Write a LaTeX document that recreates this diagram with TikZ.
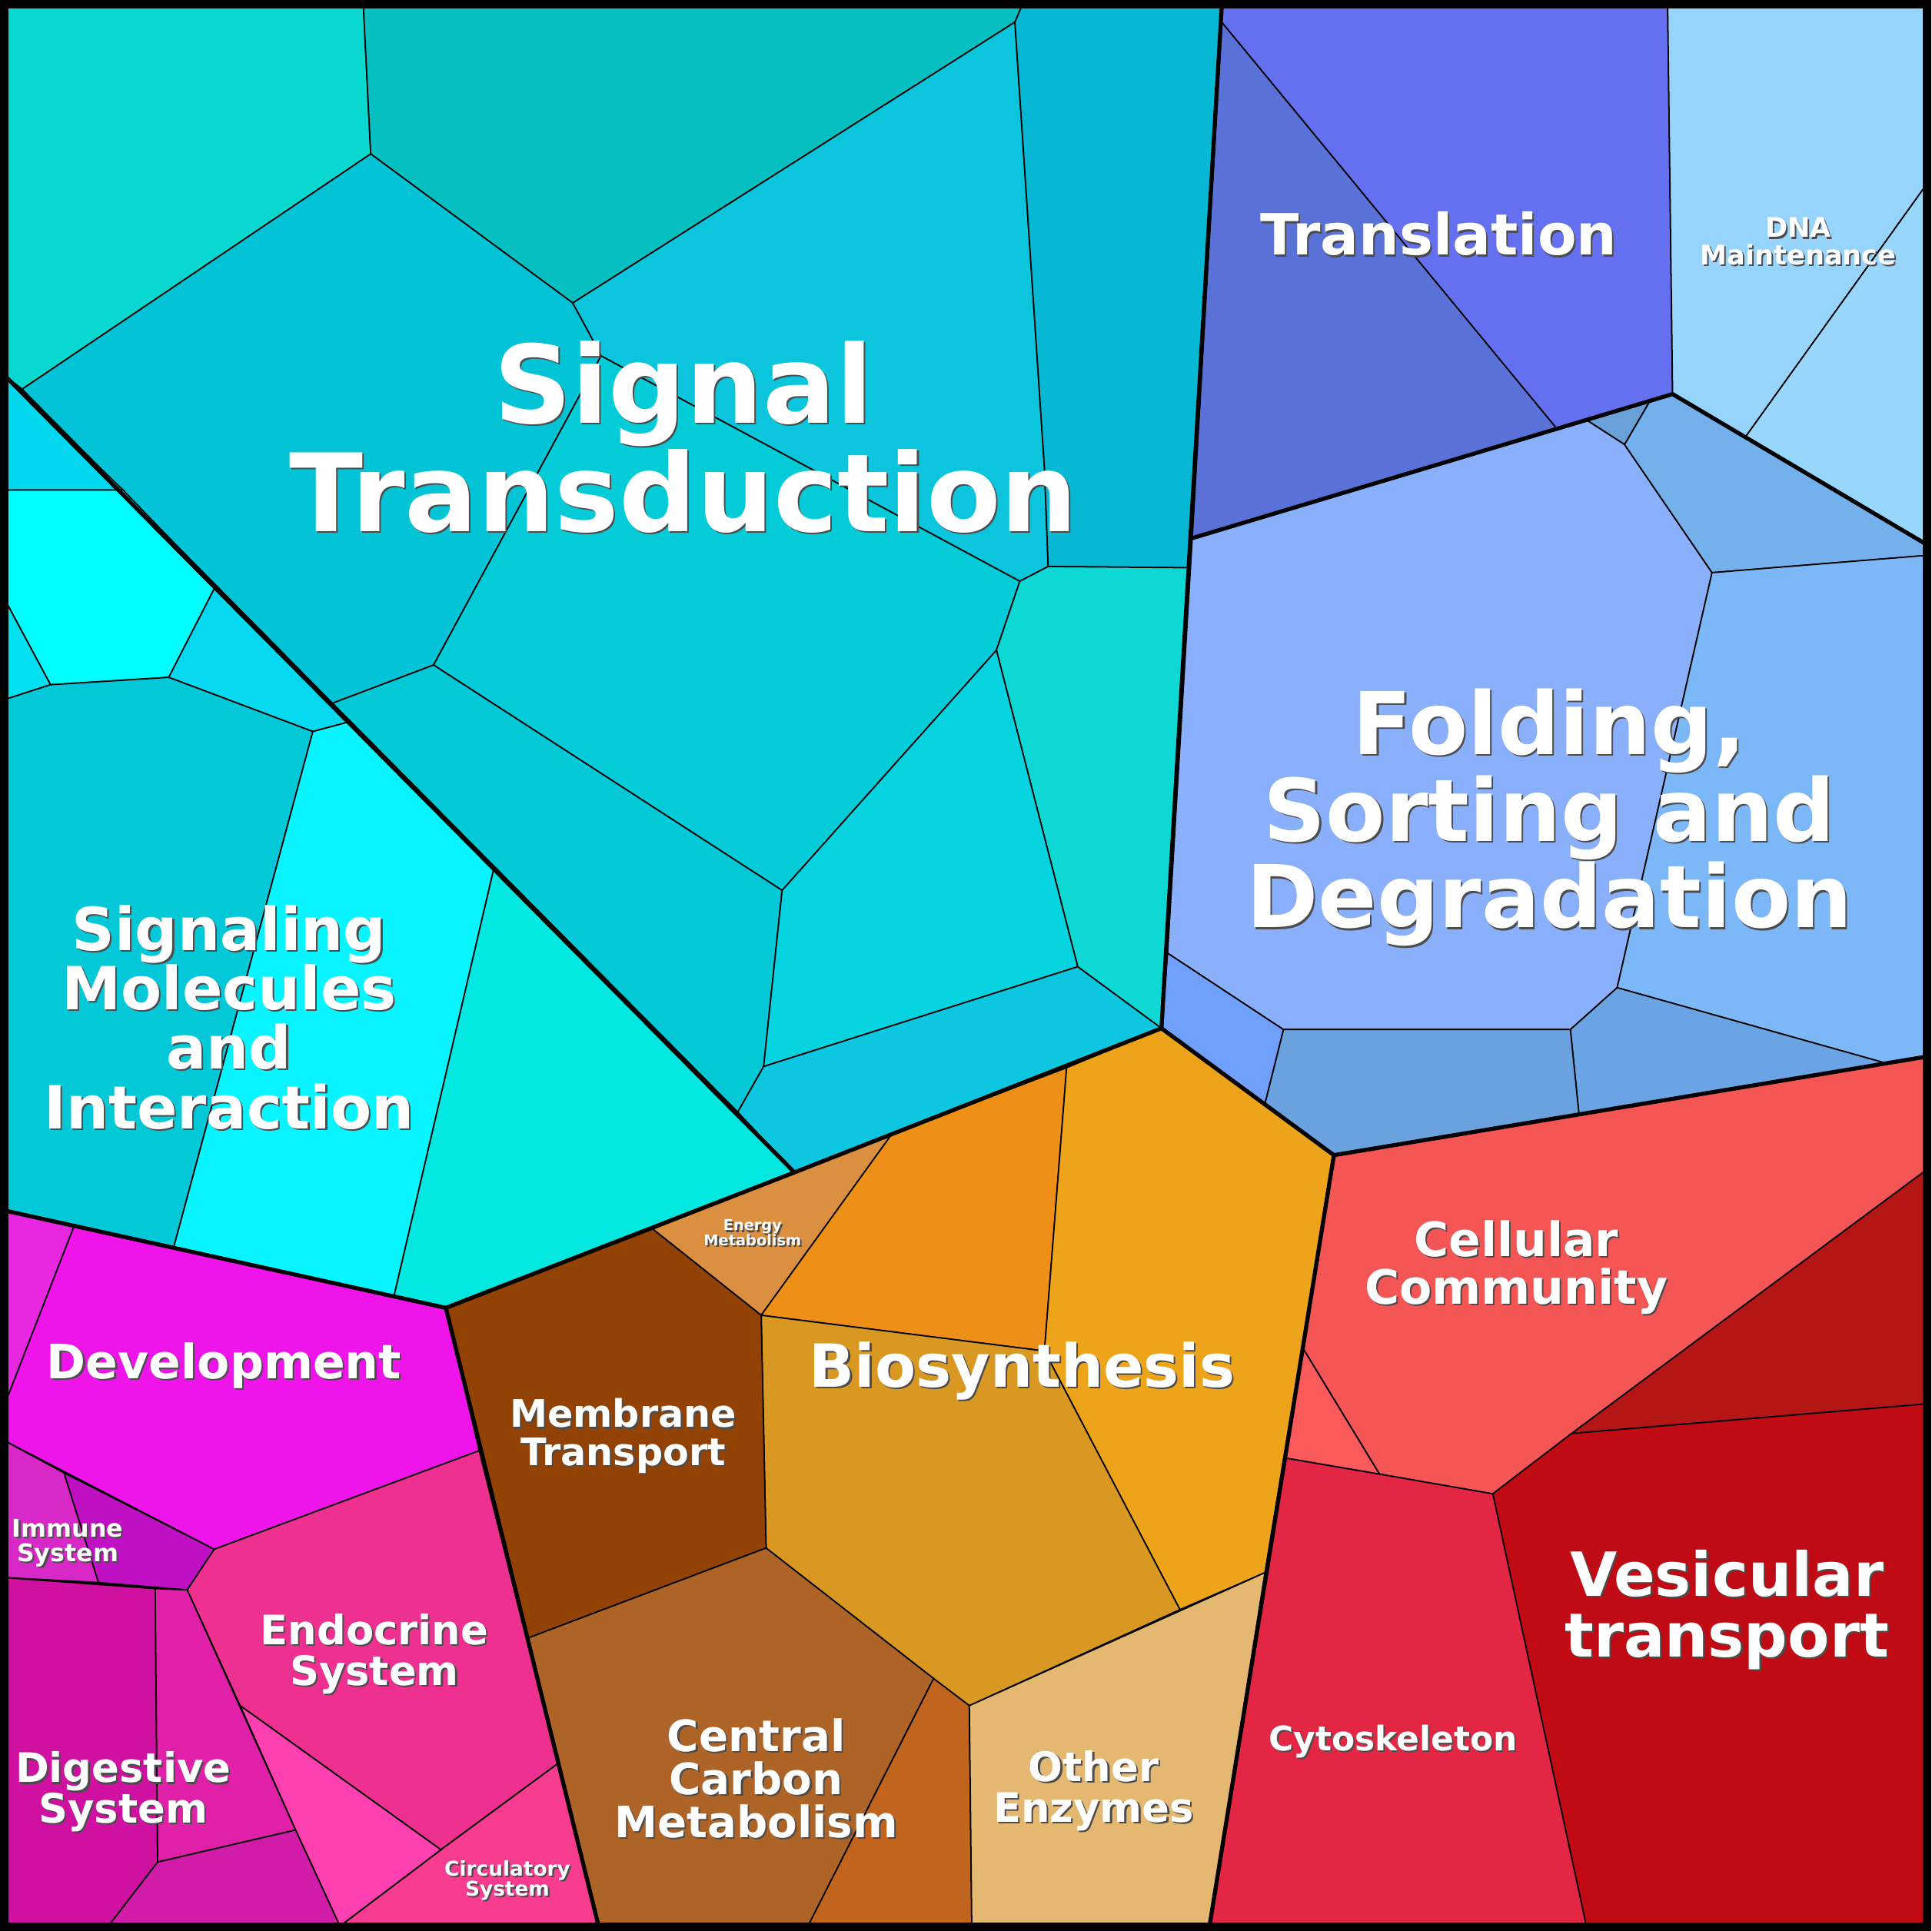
\documentclass[tikz,border=0pt]{standalone}
\usepackage{fontspec}
\setmainfont{DejaVu Sans}
\usepackage{tikz}

\tikzset{
  cell/.style={draw=black, line width=0.5pt},
  part/.style={draw=black, line width=1.5pt},
  lbl/.style={text=white, font=\bfseries, align=center, inner sep=0pt},
  shd/.style={text=black!70, font=\bfseries, align=center, inner sep=0pt}
}
% label with a dark shadow behind it
\newcommand{\cellname}[4]{%
  \node[shd, font=\fontsize{#3}{#3}\bfseries] (#1s) at ([xshift=0.6pt,yshift=-0.6pt]#2) {#4};
  \node[lbl, font=\fontsize{#3}{#3}\bfseries] (#1) at (#2) {#4};}

\begin{document}
\begin{tikzpicture}[x=0.016cm, y=-0.016cm]
\useasboundingbox (0,0) rectangle (1568,1568);
\fill[black] (0,0) rectangle (1568,1568);

% signal transduction
\fill[cell, fill={rgb,255:red,8;green,216;blue,208}] (4,4) -- (295,4) -- (301,125) -- (18,316) -- (4,305) -- cycle;
\fill[cell, fill={rgb,255:red,5;green,191;blue,192}] (295,4) -- (830,4) -- (824,18) -- (465,246) -- (301,125) -- cycle;
\fill[cell, fill={rgb,255:red,3;green,196;blue,214}] (18,316) -- (301,125) -- (465,246) -- (477,268) -- (488,289) -- (352,540) -- (270,571) -- cycle;
\fill[cell, fill={rgb,255:red,11;green,197;blue,220}] (465,246) -- (824,18) -- (848,380) -- (851,460) -- (828,472) -- (488,289) -- (477,268) -- cycle;
\fill[cell, fill={rgb,255:red,6;green,184;blue,212}] (830,4) -- (992,4) -- (965,461) -- (851,460) -- (848,380) -- (824,18) -- cycle;
\fill[cell, fill={rgb,255:red,3;green,203;blue,216}] (488,289) -- (828,472) -- (809,528) -- (635,723) -- (352,540) -- cycle;
\fill[cell, fill={rgb,255:red,3;green,200;blue,214}] (270,571) -- (352,540) -- (635,723) -- (620,866) -- (599,903) -- cycle;
\fill[cell, fill={rgb,255:red,14;green,216;blue,212}] (809,528) -- (828,472) -- (851,460) -- (965,461) -- (943,835) -- (875,785) -- cycle;
\fill[cell, fill={rgb,255:red,5;green,212;blue,224}] (635,723) -- (809,528) -- (875,785) -- (620,866) -- cycle;
\fill[cell, fill={rgb,255:red,12;green,199;blue,223}] (620,866) -- (875,785) -- (943,835) -- (645,952) -- (599,903) -- cycle;

% signaling molecules
\fill[cell, fill={rgb,255:red,0;green,216;blue,240}] (4,305) -- (100,398) -- (4,398) -- cycle;
\fill[cell, fill={rgb,255:red,0;green,255;blue,255}] (4,398) -- (100,398) -- (175,476) -- (137,550) -- (41,556) -- (4,487) -- cycle;
\fill[cell, fill={rgb,255:red,5;green,216;blue,239}] (175,476) -- (284,586) -- (254,594) -- (137,550) -- cycle;
\fill[cell, fill={rgb,255:red,0;green,224;blue,240}] (4,487) -- (41,556) -- (4,568) -- cycle;
\fill[cell, fill={rgb,255:red,3;green,200;blue,216}] (4,568) -- (41,556) -- (137,550) -- (254,594) -- (141,1013) -- (4,983) -- cycle;
\fill[cell, fill={rgb,255:red,8;green,244;blue,254}] (254,594) -- (284,586) -- (401,705) -- (320,1052) -- (141,1013) -- cycle;
\fill[cell, fill={rgb,255:red,2;green,232;blue,224}] (401,705) -- (645,952) -- (362,1062) -- (320,1052) -- cycle;

% translation and dna
\fill[cell, fill={rgb,255:red,90;green,114;blue,216}] (992,18) -- (1264,348) -- (968,437) -- cycle;
\fill[cell, fill={rgb,255:red,101;green,112;blue,240}] (992,4) -- (1354,4) -- (1358,320) -- (1340,325) -- (1288,341) -- (1264,348) -- (992,18) -- cycle;
\fill[cell, fill={rgb,255:red,150;green,212;blue,252}] (1354,4) -- (1564,4) -- (1564,150) -- (1417,355) -- (1358,320) -- cycle;
\fill[cell, fill={rgb,255:red,152;green,214;blue,252}] (1564,150) -- (1564,442) -- (1417,355) -- cycle;

% folding
\fill[cell, fill={rgb,255:red,106;green,160;blue,216}] (1288,341) -- (1340,325) -- (1319,361) -- cycle;
\fill[cell, fill={rgb,255:red,138;green,176;blue,252}] (968,437) -- (1264,348) -- (1288,341) -- (1319,361) -- (1390,465) -- (1313,802) -- (1275,836) -- (1042,836) -- (948,774) -- cycle;
\fill[cell, fill={rgb,255:red,116;green,176;blue,236}] (1319,361) -- (1340,325) -- (1358,320) -- (1564,442) -- (1564,451) -- (1390,465) -- cycle;
\fill[cell, fill={rgb,255:red,124;green,184;blue,248}] (1390,465) -- (1564,451) -- (1564,858) -- (1530,863) -- (1313,802) -- cycle;
\fill[cell, fill={rgb,255:red,106;green,164;blue,228}] (1313,802) -- (1530,863) -- (1282,905) -- (1275,836) -- cycle;
\fill[cell, fill={rgb,255:red,106;green,162;blue,224}] (1042,836) -- (1275,836) -- (1282,905) -- (1083,938) -- (1027,896) -- cycle;
\fill[cell, fill={rgb,255:red,112;green,160;blue,252}] (948,774) -- (1042,836) -- (1027,896) -- (943,835) -- cycle;

% metabolism
\fill[cell, fill={rgb,255:red,218;green,144;blue,64}] (530,998) -- (724,921) -- (618,1068) -- cycle;
\fill[cell, fill={rgb,255:red,238;green,144;blue,24}] (724,921) -- (866,867) -- (848,1097) -- (618,1068) -- cycle;
\fill[cell, fill={rgb,255:red,238;green,164;blue,26}] (866,867) -- (943,835) -- (1083,938) -- (1027,1277) -- (958,1307) -- (848,1097) -- cycle;
\fill[cell, fill={rgb,255:red,216;green,152;blue,34}] (618,1068) -- (848,1097) -- (958,1307) -- (787,1385) -- (758,1363) -- (622,1257) -- cycle;
\fill[cell, fill={rgb,255:red,146;green,66;blue,4}] (362,1062) -- (530,998) -- (618,1068) -- (622,1257) -- (429,1330) -- cycle;
\fill[cell, fill={rgb,255:red,174;green,100;blue,38}] (429,1330) -- (622,1257) -- (758,1363) -- (656,1564) -- (486,1564) -- cycle;
\fill[cell, fill={rgb,255:red,192;green,100;blue,30}] (758,1363) -- (787,1385) -- (789,1564) -- (656,1564) -- cycle;
\fill[cell, fill={rgb,255:red,228;green,184;blue,112}] (787,1385) -- (1027,1277) -- (982,1564) -- (789,1564) -- cycle;

% cellular processes
\fill[cell, fill={rgb,255:red,244;green,86;blue,86}] (1083,938) -- (1564,858) -- (1564,950) -- (1276,1164) -- (1212,1213) -- (1120,1197) -- (1058,1095) -- cycle;
\fill[cell, fill={rgb,255:red,250;green,90;blue,90}] (1058,1095) -- (1120,1197) -- (1044,1184) -- cycle;
\fill[cell, fill={rgb,255:red,180;green,22;blue,22}] (1564,950) -- (1564,1140) -- (1276,1164) -- cycle;
\fill[cell, fill={rgb,255:red,192;green,10;blue,20}] (1276,1164) -- (1564,1140) -- (1564,1564) -- (1288,1564) -- (1212,1213) -- cycle;
\fill[cell, fill={rgb,255:red,226;green,38;blue,68}] (1044,1184) -- (1120,1197) -- (1212,1213) -- (1288,1564) -- (982,1564) -- cycle;

% organismal systems
\fill[cell, fill={rgb,255:red,232;green,40;blue,224}] (4,983) -- (60,996) -- (4,1140) -- cycle;
\fill[cell, fill={rgb,255:red,238;green,20;blue,234}] (60,996) -- (362,1062) -- (389,1178) -- (174,1258) -- (4,1170) -- (4,1140) -- cycle;
\fill[cell, fill={rgb,255:red,216;green,40;blue,200}] (4,1170) -- (52,1196) -- (80,1285) -- (4,1281) -- cycle;
\fill[cell, fill={rgb,255:red,192;green,16;blue,196}] (52,1196) -- (174,1258) -- (152,1291) -- (80,1285) -- cycle;
\fill[cell, fill={rgb,255:red,238;green,48;blue,144}] (174,1258) -- (389,1178) -- (453,1432) -- (358,1502) -- (195,1385) -- (152,1291) -- cycle;
\fill[cell, fill={rgb,255:red,248;green,60;blue,144}] (358,1502) -- (453,1432) -- (486,1564) -- (276,1564) -- cycle;
\fill[cell, fill={rgb,255:red,255;green,64;blue,176}] (195,1385) -- (358,1502) -- (276,1564) -- (240,1486) -- cycle;
\fill[cell, fill={rgb,255:red,208;green,16;blue,160}] (4,1281) -- (126,1290) -- (128,1512) -- (88,1564) -- (4,1564) -- cycle;
\fill[cell, fill={rgb,255:red,224;green,32;blue,168}] (126,1290) -- (152,1291) -- (240,1486) -- (128,1512) -- cycle;
\fill[cell, fill={rgb,255:red,208;green,28;blue,168}] (128,1512) -- (240,1486) -- (276,1564) -- (88,1564) -- cycle;

% group borders
\draw[part] (4,305) -- (645,952);
\draw[part] (992,4) -- (943,835) -- (645,952) -- (362,1062) -- (4,983);
\draw[part] (968,437) -- (1358,320) -- (1564,442);
\draw[part] (943,835) -- (1083,938) -- (1564,858);
\draw[part] (1083,938) -- (982,1564);
\draw[part] (362,1062) -- (486,1564);
\draw[line width=2.4pt] (4,4) rectangle (1564,1564);

% labels
\cellname{st}{555,355}{40}{Signal\\Transduction}
\cellname{fsd}{1258,664}{32}{Folding,\\Sorting and\\Degradation}
\cellname{tr}{1168,190}{21}{Translation}
\cellname{dna}{1460,196}{10}{DNA\\Maintenance}
\cellname{smi}{186,826}{22}{Signaling\\Molecules\\and\\Interaction}
\cellname{bio}{830,1113}{22}{Biosynthesis}
\cellname{em}{611,1001}{5.5}{Energy\\Metabolism}
\cellname{mt}{506,1166}{14}{Membrane\\Transport}
\cellname{ccm}{614,1444}{16}{Central\\Carbon\\Metabolism}
\cellname{oe}{888,1454}{15}{Other\\Enzymes}
\cellname{cc}{1231,1029}{17.5}{Cellular\\Community}
\cellname{vt}{1402,1307}{22.5}{Vesicular\\transport}
\cellname{cy}{1131,1414}{12.5}{Cytoskeleton}
\cellname{dev}{182,1109}{17.5}{Development}
\cellname{is}{55,1253}{9}{Immune\\System}
\cellname{es}{304,1343}{15}{Endocrine\\System}
\cellname{ds}{100,1455}{15}{Digestive\\System}
\cellname{cs}{412,1527}{7.5}{Circulatory\\System}
\end{tikzpicture}
\end{document}
